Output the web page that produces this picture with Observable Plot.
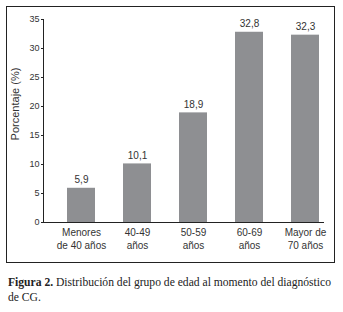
<!DOCTYPE html>
<html>
<head>
<meta charset="utf-8">
<script src="https://cdn.jsdelivr.net/npm/d3@7"></script>
<script src="https://cdn.jsdelivr.net/npm/@observablehq/plot@0.6"></script>
<style>
  html, body { margin: 0; padding: 0; background: #fff; }
  #wrap { position: relative; width: 343px; height: 312px; overflow: hidden; }
  #chart { position: absolute; left: 0; top: 0; }
  #box { position: absolute; left: 6px; top: 6px; width: 327px; height: 255px; border: 1px solid #222; pointer-events: none; }
  #caption { position: absolute; left: 8px; top: 275px; width: 330px; font-family: "Liberation Serif", serif; font-size: 11.6px; line-height: 15px; color: #222; }
</style>
</head>
<body>
<div id="wrap">
  <div id="chart"></div>
  <div id="box"></div>
  <div id="caption"><b>Figura 2.</b> Distribución del grupo de edad al momento del diagnóstico de CG.</div>
</div>
<script>
const categories = ["Menores\nde 40 años", "40-49\naños", "50-59\naños", "60-69\naños", "Mayor de\n70 años"];
const values = [5.9, 10.1, 18.9, 32.8, 32.3];
const valueLabels = ["5,9", "10,1", "18,9", "32,8", "32,3"];
const yTicks = [0, 5, 10, 15, 20, 25, 30, 35];
const yTitle = "Porcentaje (%)";

const data = categories.map((c, i) => ({cat: c, value: values[i], label: valueLabels[i]}));

const plot = Plot.plot({
  width: 343,
  height: 265,
  marginLeft: 43,
  marginRight: 19,
  marginTop: 19,
  marginBottom: 43,
  style: {fontFamily: "'Liberation Sans', Arial, sans-serif", color: "#333", background: "transparent"},
  x: {domain: categories, paddingInner: 0.5, paddingOuter: 0.235, align: 0.82, label: null},
  y: {domain: [0, 35], label: null},
  marks: [
    Plot.barY(data, {x: "cat", y: "value", fill: "#8e8f92"}),
    Plot.text(data, {x: "cat", y: "value", text: "label", dy: -8, fontSize: 10, fill: "#333"}),
    Plot.axisY({ticks: yTicks, tickSize: 2, tickPadding: 2, fontSize: 9, stroke: "#222", label: null}),
    Plot.axisX({tickSize: 0, tickPadding: 4, fontSize: 10, lineHeight: 1.3, label: null, textAnchor: "middle"}),
    Plot.text([yTitle], {frameAnchor: "left", textAnchor: "middle", rotate: -90, dx: -28, dy: -17, fontSize: 11, fill: "#333"}),
    Plot.frame({anchor: "left", stroke: "#222"}),
    Plot.ruleY([0], {stroke: "#222"})
  ]
});
document.getElementById("chart").appendChild(plot);
</script>
</body>
</html>
